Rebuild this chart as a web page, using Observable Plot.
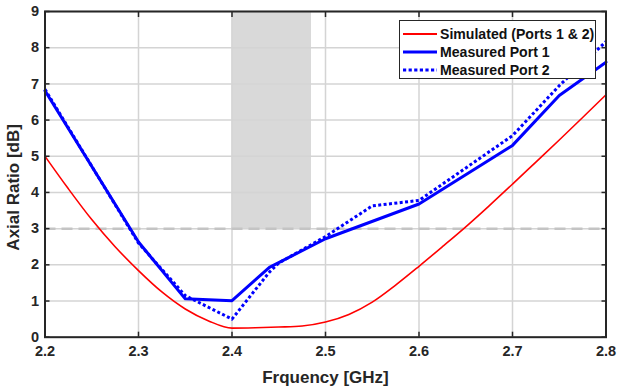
<!DOCTYPE html>
<html>
<head>
<meta charset="utf-8">
<script src="https://cdn.jsdelivr.net/npm/d3@7"></script>
<script src="https://cdn.jsdelivr.net/npm/@observablehq/plot@0.6"></script>
<style>
  html, body { margin: 0; padding: 0; background: #fff; }
  #wrap { position: relative; width: 617px; height: 390px; font-family: "Liberation Sans", Arial, sans-serif; }
  #legend { position: absolute; left: 399px; top: 20px; width: 195px; height: 57px; border: 1.5px solid #262626; background: #fff; box-sizing: content-box; }
  #legend .row { position: absolute; left: 0; height: 18px; display: flex; align-items: center; }
  #legend .row span { font-weight: bold; font-size: 14.1px; color: #111; margin-left: 2px; white-space: nowrap; letter-spacing: 0; }
</style>
</head>
<body>
<div id="wrap"></div>
<script>
// Simulated (Ports 1 & 2)
const freqSim = [2.2, 2.225, 2.25, 2.275, 2.3, 2.325, 2.35, 2.375, 2.4, 2.425, 2.45, 2.475, 2.5, 2.525, 2.55, 2.575, 2.6, 2.625, 2.65, 2.675, 2.7, 2.725, 2.75, 2.775, 2.8];
const simulated = [5.0, 4.1, 3.25, 2.5, 1.84, 1.25, 0.78, 0.45, 0.25, 0.26, 0.28, 0.31, 0.42, 0.63, 0.97, 1.44, 1.96, 2.5, 3.05, 3.63, 4.23, 4.84, 5.45, 6.07, 6.7];
// Measured Port 1
const freqP1 = [2.2, 2.3, 2.35, 2.4, 2.44, 2.5, 2.6, 2.7, 2.75, 2.8];
const port1 = [6.81, 2.63, 1.06, 1.01, 1.93, 2.72, 3.68, 5.3, 6.68, 7.6];
// Measured Port 2
const freqP2 = [2.2, 2.3, 2.35, 2.4, 2.44, 2.45, 2.5, 2.55, 2.6, 2.7, 2.75, 2.8];
const port2 = [6.85, 2.6, 1.15, 0.5, 1.8, 2.05, 2.78, 3.63, 3.78, 5.57, 6.95, 8.17];
// Shaded band and 3 dB threshold
const band = {x1: 2.4, x2: 2.485, y1: 3, y2: 9};
const threshold = 3;
const xTicks = [2.2, 2.3, 2.4, 2.5, 2.6, 2.7, 2.8];
const yTicks = [0, 1, 2, 3, 4, 5, 6, 7, 8, 9];
const legendLabels = ["Simulated (Ports 1 & 2)", "Measured Port 1", "Measured Port 2"];

const sim = freqSim.map((f, i) => ({f, v: simulated[i]}));
const p1 = freqP1.map((f, i) => ({f, v: port1[i]}));
const p2 = freqP2.map((f, i) => ({f, v: port2[i]}));

const axisColor = "#262626";
const chart = Plot.plot({
  width: 617,
  height: 390,
  marginLeft: 44.5,
  marginRight: 11.5,
  marginTop: 11,
  marginBottom: 53.3,
  style: {fontFamily: "'Liberation Sans', Arial, sans-serif", background: "#fff"},
  x: {domain: [2.2, 2.8]},
  y: {domain: [0, 9]},
  marks: [
    Plot.rect([band], {x1: "x1", x2: "x2", y1: "y1", y2: "y2", fill: "#d9d9d9"}),
    Plot.gridX(xTicks, {stroke: "#d4d4d4", strokeOpacity: 1, strokeWidth: 1.5}),
    Plot.gridY(yTicks, {stroke: "#d4d4d4", strokeOpacity: 1, strokeWidth: 1.5}),
    Plot.ruleY([threshold], {stroke: "#c4c4c4", strokeWidth: 2.5, strokeDasharray: "11,6"}),
    Plot.line(sim, {x: "f", y: "v", stroke: "#ff0000", strokeWidth: 1.6, curve: "monotone-x"}),
    Plot.line(p1, {x: "f", y: "v", stroke: "#0000ff", strokeWidth: 3}),
    Plot.line(p2, {x: "f", y: "v", stroke: "#0000ff", strokeWidth: 3, strokeDasharray: "3,2.4", strokeLinecap: "butt"}),
    Plot.frame({stroke: axisColor, strokeWidth: 2}),
    // inward ticks
    Plot.axisX(xTicks, {anchor: "bottom", tickSize: -5, tickFormat: () => "", stroke: axisColor, strokeWidth: 1.5, label: null}),
    Plot.axisX(xTicks, {anchor: "top", tickSize: -5, tickFormat: () => "", stroke: axisColor, strokeWidth: 1.5, label: null}),
    Plot.axisY(yTicks, {anchor: "left", tickSize: -5, tickFormat: () => "", stroke: axisColor, strokeWidth: 1.5, label: null}),
    Plot.axisY(yTicks, {anchor: "right", tickSize: -5, tickFormat: () => "", stroke: axisColor, strokeWidth: 1.5, label: null}),
    // tick labels
    Plot.axisX(xTicks, {anchor: "bottom", tickSize: 0, tickPadding: 9, tickFormat: d3.format(".1f"), fill: axisColor, fontSize: 14.5, fontWeight: "bold",
      label: "Frquency [GHz]", labelAnchor: "center", labelArrow: "none", labelOffset: 46}),
    Plot.axisY(yTicks, {anchor: "left", tickSize: 0, tickPadding: 6, fill: axisColor, fontSize: 14.5, fontWeight: "bold",
      label: "Axial Ratio [dB]", labelAnchor: "center", labelArrow: "none", labelOffset: 38})
  ]
});
chart.querySelectorAll("text").forEach(t => { if (!t.getAttribute("font-weight")) t.setAttribute("font-weight", "bold"); });
chart.querySelectorAll("[aria-label='x-axis label'] text, [aria-label='y-axis label'] text").forEach(t => { t.setAttribute("font-size", 17); t.setAttribute("fill", axisColor); });
chart.querySelectorAll("[aria-label='y-axis label'] text").forEach(t => { t.setAttribute("dx", -13); });
const wrap = document.getElementById("wrap");
wrap.appendChild(chart);

// Legend overlay
const legend = document.createElement("div");
legend.id = "legend";
const styles = [
  {stroke: "#ff0000", w: 1.8, dash: null},
  {stroke: "#0000ff", w: 3.2, dash: null},
  {stroke: "#0000ff", w: 3.2, dash: "3.2,2.4"}
];
const rowTops = [3.5, 21.5, 40];
legendLabels.forEach((lab, i) => {
  const row = document.createElement("div");
  row.className = "row";
  row.style.top = rowTops[i] + "px";
  const s = styles[i];
  row.innerHTML = `<svg width="38" height="18"><line x1="3" x2="37" y1="9" y2="9" stroke="${s.stroke}" stroke-width="${s.w}" ${s.dash ? `stroke-dasharray="${s.dash}"` : ""}/></svg><span>${lab}</span>`;
  legend.appendChild(row);
});
wrap.appendChild(legend);
</script>
</body>
</html>
